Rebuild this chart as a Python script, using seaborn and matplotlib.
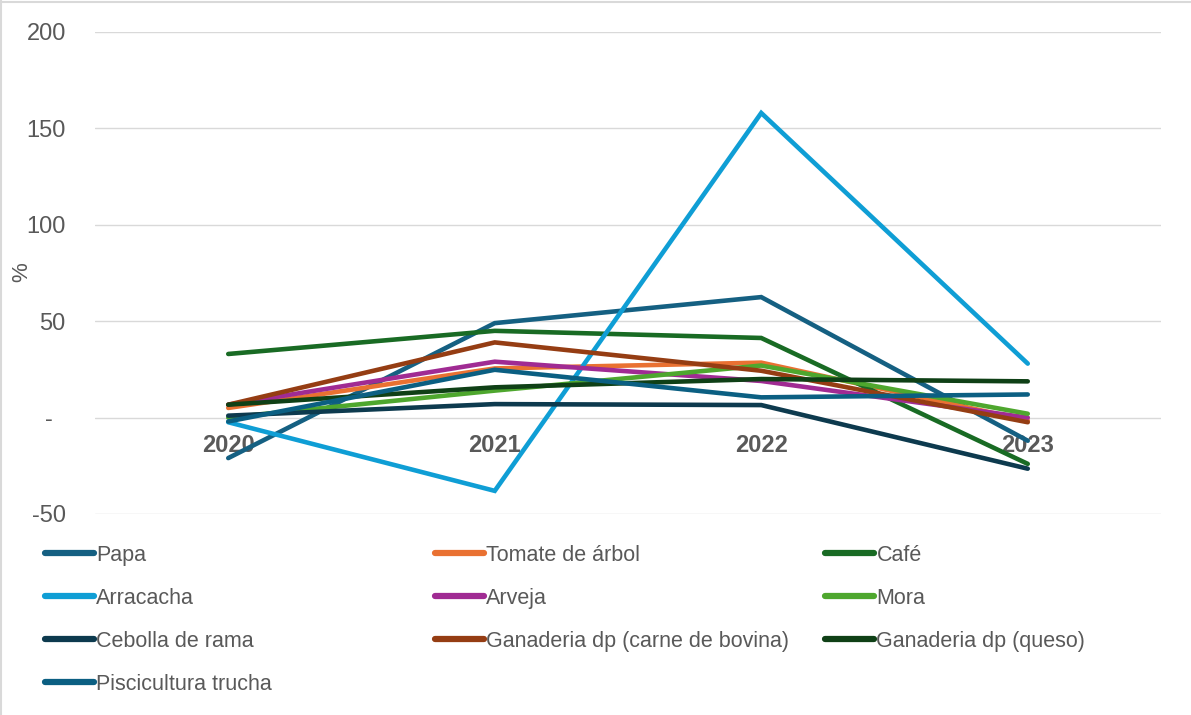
import pandas as pd
import matplotlib.pyplot as plt
import seaborn as sns
from matplotlib.lines import Line2D
from matplotlib.ticker import FuncFormatter

sns.set_style('white')
plt.rcParams['font.family'] = ['Liberation Sans', 'DejaVu Sans']

# Data (% variation)
years = ['2020', '2021', '2022', '2023']
products = ['Papa', 'Tomate de árbol', 'Café', 'Arracacha', 'Arveja', 'Mora',
            'Cebolla de rama', 'Ganaderia dp (carne de bovina)',
            'Ganaderia dp (queso)', 'Piscicultura trucha']
papa = [-21, 49, 62.5, -12]
tomate = [5, 25.5, 28.5, -1.5]
cafe = [33, 45, 41.3, -24]
arracacha = [-2.4, -38, 158, 28]
arveja = [6.7, 29, 19, 0]
mora = [0, 14, 27, 2]
cebolla = [1, 7, 6.5, -26.5]
carne = [6.7, 39, 24.3, -2.4]
queso = [6.7, 15.7, 20, 18.8]
trucha = [-2, 24.8, 10.5, 12]
colors = ['#156082', '#E97132', '#196B24', '#0F9ED5', '#A02B93', '#4EA72E',
          '#0D3A4E', '#953D13', '#0F4016', '#0B5F82']

series = [papa, tomate, cafe, arracacha, arveja, mora, cebolla, carne, queso, trucha]
rows = []
for name, vals in zip(products, series):
    for i, v in enumerate(vals):
        rows.append({'Producto': name, 'pos': i, 'valor': v})
df = pd.DataFrame(rows)

fig = plt.figure(figsize=(11.91, 7.15), dpi=100)
W, H = 1191, 715
ax = fig.add_axes([95 / W, 1 - 514 / H, (1161 - 95) / W, (514 - 32) / H])

sns.lineplot(data=df, x='pos', y='valor', hue='Producto', hue_order=products,
             palette=colors, sort=False, legend=False, linewidth=3.3, ax=ax,
             solid_capstyle='round', solid_joinstyle='miter')

ax.set_xlim(-0.5, 3.5)
ax.set_ylim(-50, 200)
ax.set_yticks([-50, 0, 50, 100, 150, 200])
ax.yaxis.set_major_formatter(FuncFormatter(lambda v, p: '-  ' if v == 0 else f'{v:.0f}'))
ax.grid(axis='y', color='#D9D9D9', linewidth=1)
ax.set_axisbelow(True)
for s in ax.spines.values():
    s.set_visible(False)
ax.spines['bottom'].set_position(('data', 0))
ax.set_xticks(range(len(years)))
ax.set_xticklabels(years, fontsize=17, fontweight='bold', color='#595959')
ax.tick_params(axis='x', length=0, pad=12)
ax.tick_params(axis='y', length=0, pad=21, labelsize=17, labelcolor='#595959')
ax.set_xlabel('')
ax.set_ylabel('')
fig.text(22 / W, 1 - 272 / H, '%', rotation=90, fontsize=16, color='#595959',
         ha='center', va='center')

# legend: three columns, row-major order like the original
col_x = [34, 424, 814]
for c in range(3):
    idx = list(range(c, len(products), 3))
    handles = [Line2D([], [], color=colors[i], linewidth=4.5, solid_capstyle='round')
               for i in idx]
    labels = [products[i] for i in idx]
    leg = fig.legend(handles, labels, loc='upper left',
                     bbox_to_anchor=(col_x[c] / W, 1 - 534 / H),
                     frameon=False, fontsize=15.5, handlelength=2.3,
                     handletextpad=0.1, labelspacing=1.02, borderpad=0,
                     labelcolor='#595959')

# chart border
fig.add_artist(Line2D([0.5 / W, 0.5 / W], [0, 1], color='#D9D9D9', linewidth=1.5))
fig.add_artist(Line2D([0, 1], [1 - 2 / H, 1 - 2 / H], color='#D9D9D9', linewidth=1.5))

plt.savefig('out.png', dpi=100)
